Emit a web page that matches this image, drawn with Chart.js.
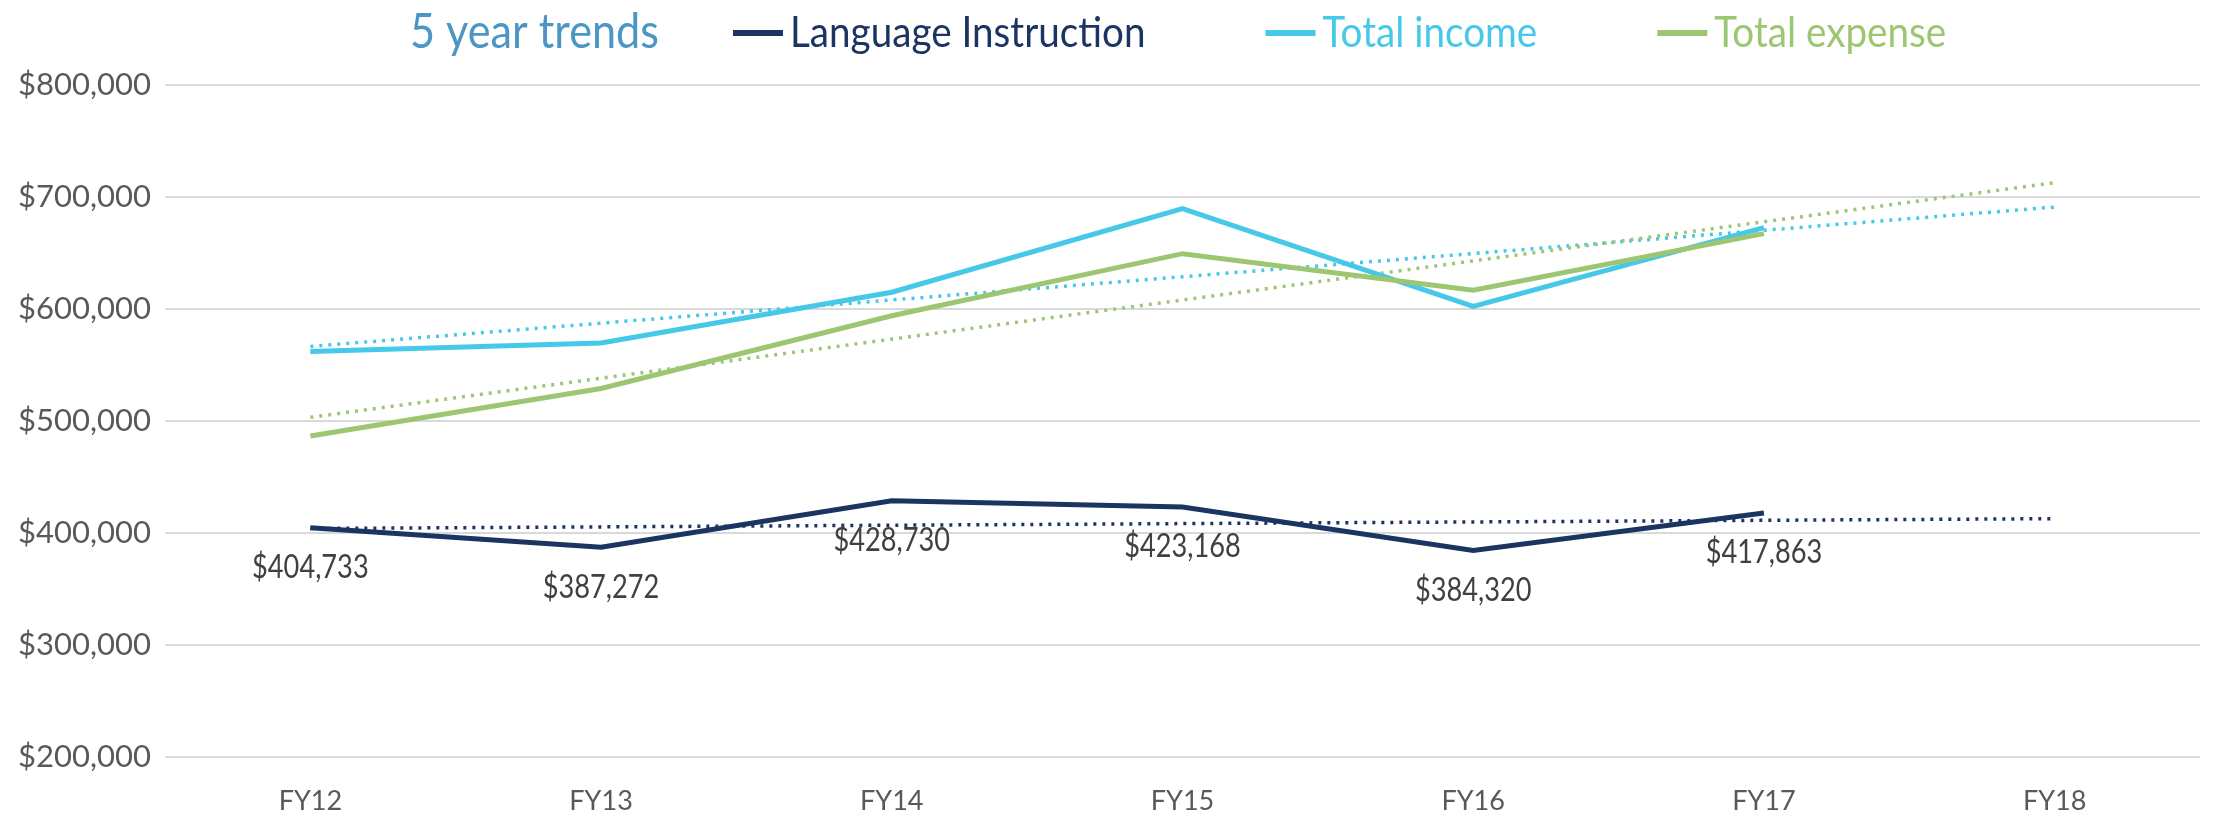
<!DOCTYPE html>
<html>
<head>
<meta charset="utf-8">
<script src="https://cdn.jsdelivr.net/npm/chart.js@4.4.1/dist/chart.umd.min.js"></script>
<style>
  body { margin: 0; background: #fff; }
  #wrap { width: 2216px; height: 815px; }
</style>
</head>
<body>
<div id="wrap"><canvas id="trendChart" width="2216" height="815"></canvas></div>
<script>
// values
const years = ["FY12", "FY13", "FY14", "FY15", "FY16", "FY17", "FY18"];
const languageInstruction = [404733, 387272, 428730, 423168, 384320, 417863];
const totalIncome = [562000, 569600, 615000, 689600, 602400, 672600];
const totalExpense = [486600, 529000, 594000, 649400, 616700, 667300];

// dotted trend lines, read at the first and last year
const trendYears = ["FY12", "FY18"];
const languageTrend = [404000, 412800];
const incomeTrend = [566600, 691000];
const expenseTrend = [503300, 712800];

const yTicks = [200000, 300000, 400000, 500000, 600000, 700000, 800000];

const navy = "#1b3461";
const cyan = "#46c8e8";
const green = "#9dc673";

function money(v) {
    return "$" + Number(v).toLocaleString("en-US");
}

function toPoints(xs, ys) {
    return xs.map((x, i) => ({ x: x, y: ys[i] }));
}

// draws text squeezed a little, to get closer to the narrow Gill Sans look
function drawText(ctx, text, x, y, font, color, sx, align) {
    ctx.save();
    ctx.font = font;
    ctx.fillStyle = color;
    ctx.textBaseline = "middle";
    const w = ctx.measureText(text).width * sx;
    const left = align === "center" ? x - w / 2 : x;
    ctx.translate(left, y);
    ctx.scale(sx, 1);
    ctx.fillText(text, 0, 0);
    ctx.restore();
    return left + w;
}

// title and legend sit on one row above the plot
const headerPlugin = {
    id: "header",
    afterDraw(chart) {
        const ctx = chart.ctx;
        const y = 33;
        let x = drawText(ctx, "5 year trends", 410, y, "48px Lato", "#4b96c4", 0.9) + 74;
        chart.data.datasets.forEach(ds => {
            if (ds.isTrend) return;
            ctx.fillStyle = ds.borderColor;
            ctx.fillRect(x, y - 3, 50, 6);
            x = drawText(ctx, ds.label, x + 57, y, "42px Lato", ds.borderColor, 0.92) + 120;
        });
    }
};

// value labels under the Language Instruction line
const labelPlugin = {
    id: "valueLabels",
    afterDatasetsDraw(chart) {
        const ctx = chart.ctx;
        chart.data.datasets.forEach((ds, i) => {
            if (!ds.showLabels) return;
            chart.getDatasetMeta(i).data.forEach((pt, j) => {
                drawText(ctx, money(ds.data[j]), pt.x, pt.y + 40, "32px Lato", "#404040", 0.85, "center");
            });
        });
    }
};

const ctx = document.getElementById("trendChart");
new Chart(ctx, {
    type: "line",
    data: {
        labels: years,
        datasets: [
            {
                label: "Language Instruction",
                data: languageInstruction,
                borderColor: navy,
                borderWidth: 5,
                pointRadius: 0,
                showLabels: true,
                order: 3
            },
            {
                label: "Total income",
                data: totalIncome,
                borderColor: cyan,
                borderWidth: 5,
                pointRadius: 0,
                order: 2
            },
            {
                label: "Total expense",
                data: totalExpense,
                borderColor: green,
                borderWidth: 5,
                pointRadius: 0,
                order: 1
            },
            {
                label: "Language trend",
                data: toPoints(trendYears, languageTrend),
                borderColor: navy,
                borderWidth: 3.5,
                borderDash: [3, 6],
                pointRadius: 0,
                isTrend: true,
                order: 6
            },
            {
                label: "Income trend",
                data: toPoints(trendYears, incomeTrend),
                borderColor: cyan,
                borderWidth: 3.5,
                borderDash: [3, 6],
                pointRadius: 0,
                isTrend: true,
                order: 5
            },
            {
                label: "Expense trend",
                data: toPoints(trendYears, expenseTrend),
                borderColor: green,
                borderWidth: 3.5,
                borderDash: [3, 6],
                pointRadius: 0,
                isTrend: true,
                order: 4
            }
        ]
    },
    options: {
        responsive: false,
        animation: false,
        layout: {
            padding: { top: 85, right: 16, bottom: 0, left: 0 }
        },
        plugins: {
            legend: { display: false },
            title: { display: false },
            tooltip: { enabled: false }
        },
        scales: {
            x: {
                offset: true,
                grid: { display: false },
                border: { display: false },
                ticks: {
                    color: "#595959",
                    font: { family: "Lato", size: 27 },
                    padding: 20
                },
                afterFit(scale) { scale.height = 58; }
            },
            y: {
                min: yTicks[0],
                max: yTicks[yTicks.length - 1],
                grid: { color: "#d9d9d9", lineWidth: 2, drawTicks: false },
                border: { display: false },
                ticks: {
                    stepSize: yTicks[1] - yTicks[0],
                    color: "#595959",
                    font: { family: "Lato", size: 31 },
                    padding: 14,
                    callback: v => money(v)
                },
                afterFit(scale) { scale.width = 165; }
            }
        }
    },
    plugins: [headerPlugin, labelPlugin]
});
</script>
</body>
</html>
